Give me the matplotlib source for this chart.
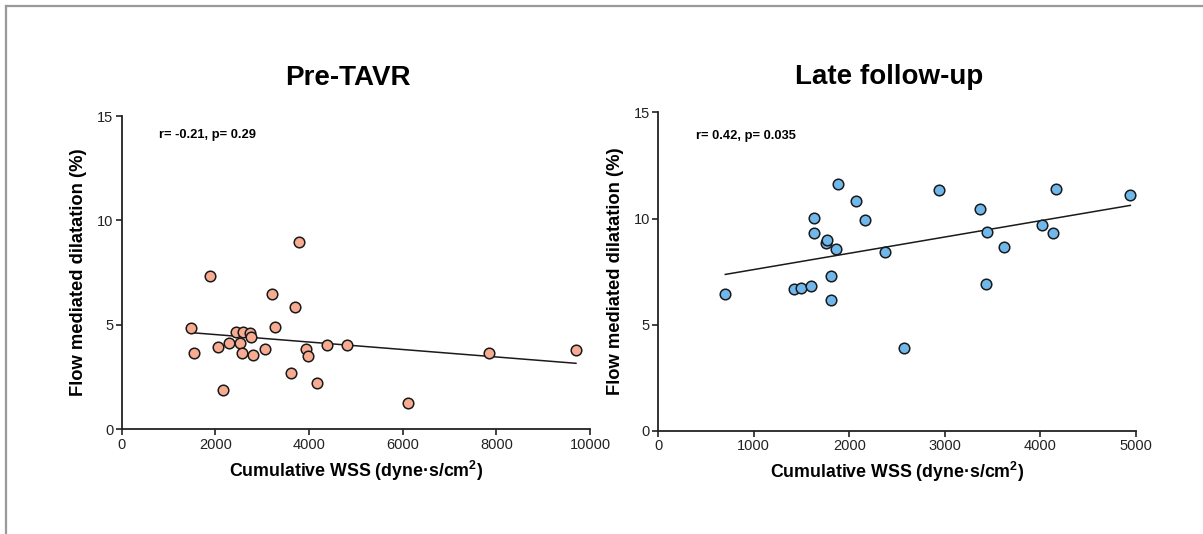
import matplotlib
matplotlib.use("Agg")
import matplotlib.pyplot as plt
import numpy as np

plt.rcParams['font.family'] = ['Liberation Sans', 'DejaVu Sans']
plt.rcParams['mathtext.fontset'] = 'custom'
plt.rcParams['mathtext.bf'] = 'Liberation Sans:bold'
plt.rcParams['mathtext.rm'] = 'Liberation Sans'

# ---- data ----
pre_x = [1473, 1544, 1893, 2064, 2157, 2285, 2448, 2527, 2576, 2598, 2740, 2769,
         2797, 3053, 3210, 3281, 3615, 3708, 3793, 3936, 3978, 4178, 4391, 4811,
         6121, 7843, 9700]
pre_y = [4.87, 3.64, 7.34, 3.93, 1.88, 4.15, 4.68, 4.15, 3.64, 4.64, 4.60, 4.44,
         3.54, 3.85, 6.46, 4.90, 2.68, 5.87, 8.95, 3.85, 3.53, 2.20, 4.04, 4.04,
         1.24, 3.65, 3.80]
pre_fit = (-0.0001787, 4.893)   # slope, intercept
pre_stats = "r= -0.21, p= 0.29"

late_x = [702, 1421, 1494, 1599, 1634, 1627, 1753, 1767, 1812, 1812, 1861, 1885,
          2071, 2161, 2371, 2577, 2940, 3369, 3429, 3446, 3621, 4019, 4138, 4166,
          4944]
late_y = [6.46, 6.67, 6.72, 6.83, 10.01, 9.32, 8.87, 8.98, 7.30, 6.15, 8.55, 11.61,
          10.81, 9.95, 8.44, 3.91, 11.33, 10.45, 6.92, 9.38, 8.66, 9.68, 9.30, 11.39,
          11.11]
late_fit = (0.000766, 6.832)
late_stats = "r= 0.42, p= 0.035"

titles = ["Pre-TAVR", "Late follow-up"]
xlabel = "Cumulative WSS (dyne·s/cm$^{\\mathbf{2}}$)"
ylabel = "Flow mediated dilatation (%)"
pre_xticks = [0, 2000, 4000, 6000, 8000, 10000]
late_xticks = [0, 1000, 2000, 3000, 4000, 5000]
yticks = [0, 5, 10, 15]

W, H = 1203, 534
fig = plt.figure(figsize=(W / 100, H / 100), dpi=100)

# border lines (top and left)
fig.add_artist(plt.Line2D([6 / W, 1], [1 - 6 / H, 1 - 6 / H], color='#9a9a9a', lw=1.6))
fig.add_artist(plt.Line2D([6 / W, 6 / W], [0, 1 - 6 / H], color='#9a9a9a', lw=1.6))


def make_ax(px0, px1, py_top, py_bot):
    return fig.add_axes([px0 / W, 1 - py_bot / H, (px1 - px0) / W, (py_bot - py_top) / H])


ax1 = make_ax(121.7, 590, 116, 429.3)
ax2 = make_ax(658.3, 1135.7, 112.3, 431)

panels = [
    (ax1, pre_x, pre_y, pre_fit, pre_stats, '#F7AB91', pre_xticks, 10000, 0.94),
    (ax2, late_x, late_y, late_fit, late_stats, '#70B8EC', late_xticks, 5000, 0.925),
]

for ax, xs, ys, fit, stats, col, xt, xmax, sy in panels:
    ax.scatter(xs, ys, s=58, facecolor=col, edgecolor='#1a1a1a', linewidth=1.1,
               zorder=3, clip_on=False)
    xx = np.array([min(xs), max(xs)])
    ax.plot(xx, fit[0] * xx + fit[1], color='#1a1a1a', lw=1.1, zorder=2)
    ax.set_xlim(0, xmax)
    ax.set_ylim(0, 15)
    ax.set_xticks(xt)
    ax.set_yticks(yticks)
    for s in ['top', 'right']:
        ax.spines[s].set_visible(False)
    for s in ['left', 'bottom']:
        ax.spines[s].set_linewidth(1.3)
        ax.spines[s].set_color('#222222')
    ax.tick_params(direction='out', length=4, width=1.2, labelsize=10.5, colors='#222222',
                   pad=2)
    ax.set_xlabel(xlabel, fontsize=12.8, fontweight='bold', labelpad=5)
    ax.set_ylabel(ylabel, fontsize=13.2, fontweight='bold', labelpad=7)
    ax.text(0.08, sy, stats, transform=ax.transAxes,
            fontsize=9.3, fontweight='bold', va='center', ha='left')

fig.text(348 / W, 1 - 78 / H, titles[0], fontsize=20, fontweight='bold', ha='center', va='center')
fig.text(889 / W, 1 - 77 / H, titles[1], fontsize=20, fontweight='bold', ha='center', va='center')

fig.savefig("out.png", dpi=100)
